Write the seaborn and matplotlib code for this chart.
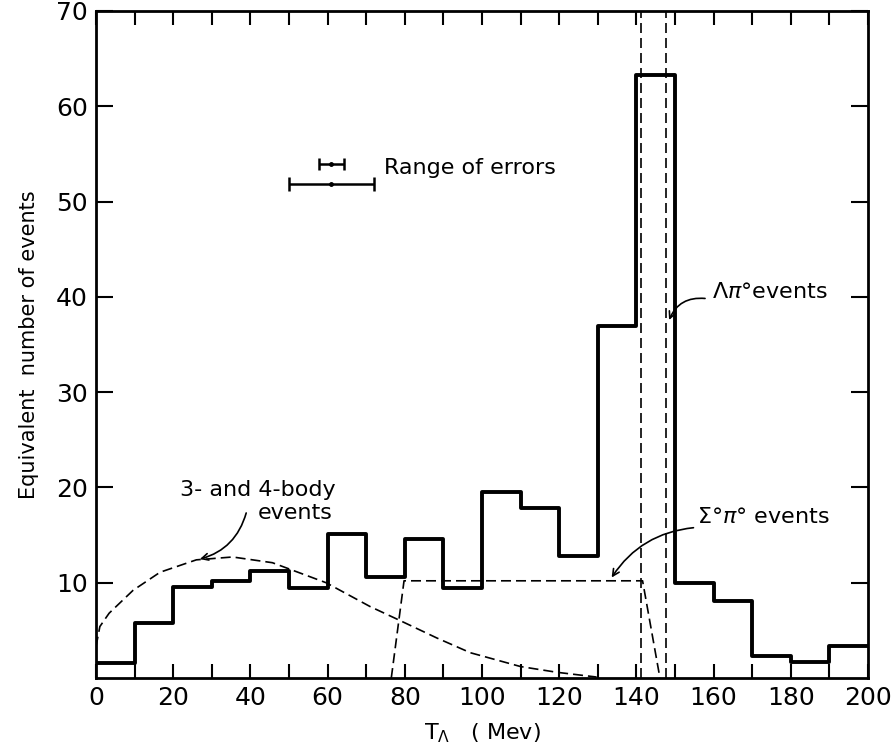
import numpy as np
import pandas as pd
import matplotlib
matplotlib.use("Agg")
import matplotlib.pyplot as plt
from matplotlib.ticker import MultipleLocator, FixedLocator
import seaborn as sns

# ---- data ----
bin_edges = list(range(0, 201, 10))
counts = [1.6, 5.8, 9.5, 10.2, 11.2, 9.4, 15.1, 10.6, 14.6, 9.4,
          19.5, 17.8, 12.8, 36.9, 63.3, 10.0, 8.1, 2.3, 1.7, 3.4]

body_x = [0, 1.0, 3.4, 9.6, 16.6, 26, 35.4, 45.7, 59.6, 71, 78.4, 88.3, 97, 110, 119.4, 129.7]
body_y = [3.3, 5.4, 6.8, 9.2, 11.1, 12.4, 12.7, 12.1, 10.0, 7.5, 6.1, 4.2, 2.65, 1.2, 0.6, 0.1]

sigma_x = [76.5, 79.8, 141.6, 146.1]
sigma_y = [0, 10.2, 10.2, 0]

lambda_lines = [141.3, 147.7]

err_center = 61
err_small = (53.9, 3.2)
err_large = (51.8, 11.0)

# ---- style ----
sns.set_theme(style="ticks")
plt.rcParams['font.family'] = ['DejaVu Sans']
plt.rcParams['mathtext.fontset'] = 'dejavusans'
plt.rcParams['text.color'] = 'black'
plt.rcParams['axes.labelcolor'] = 'black'
plt.rcParams['xtick.color'] = 'black'
plt.rcParams['ytick.color'] = 'black'

fig = plt.figure(figsize=(8.96, 7.56), dpi=100)
ax = fig.add_axes([96/896, 1-678/756, (868-96)/896, (678-11)/756])

centers = [(a + b) / 2 for a, b in zip(bin_edges[:-1], bin_edges[1:])]
df = pd.DataFrame({"T": centers, "w": counts})
sns.histplot(data=df, x="T", weights="w", bins=bin_edges, element="step",
             fill=False, color="black", linewidth=2.8, ax=ax)

dash = (6, 3)
sns.lineplot(x=body_x, y=body_y, sort=False, color="black", lw=1.2,
             dashes=False, ax=ax).lines[-1].set_dashes(dash)
l2 = ax.plot(sigma_x, sigma_y, color="black", lw=1.2)[0]
l2.set_dashes(dash)
for xv in lambda_lines:
    ln = ax.plot([xv, xv], [0, 70], color="black", lw=1.2)[0]
    ln.set_dashes(dash)

# error bars
ax.errorbar([err_center], [err_small[0]], xerr=[err_small[1]], fmt='o', ms=2.5,
            color='black', capsize=4, elinewidth=1.8, capthick=1.8)
ax.errorbar([err_center], [err_large[0]], xerr=[err_large[1]], fmt='o', ms=2.5,
            color='black', capsize=5, elinewidth=1.8, capthick=1.8)
ax.text(74.5, 53.5, "Range of errors", fontsize=16, va='center', ha='left',
        color='black')

# annotations
ax.annotate("", xy=(148.2, 37.3), xytext=(158.5, 39.8),
            arrowprops=dict(arrowstyle="->", color="black", lw=1.2,
                            connectionstyle="arc3,rad=0.4"))
ax.text(159.6, 40.5, "Λ$\\pi$°events", fontsize=16, va='center', ha='left',
        color='black')

ax.annotate("", xy=(133.2, 10.3), xytext=(155.5, 15.8),
            arrowprops=dict(arrowstyle="->", color="black", lw=1.2,
                            connectionstyle="arc3,rad=0.25"))
ax.text(155.7, 16.9, "Σ°$\\pi$° events", fontsize=16, va='center', ha='left',
        color='black')

ax.annotate("", xy=(26.2, 12.4), xytext=(39.1, 17.6),
            arrowprops=dict(arrowstyle="->", color="black", lw=1.2,
                            connectionstyle="arc3,rad=-0.3"))
ax.text(42, 19.7, "3- and 4-body", fontsize=16, va='center', ha='center',
        color='black')
ax.text(51.5, 17.3, "events", fontsize=16, va='center', ha='center',
        color='black')

# axes
ax.set_xlim(0, 200)
ax.set_ylim(0, 70)
ax.xaxis.set_major_locator(MultipleLocator(20))
ax.xaxis.set_minor_locator(MultipleLocator(10))
ax.yaxis.set_major_locator(FixedLocator([10, 20, 30, 40, 50, 60, 70]))
ax.tick_params(axis='x', which='both', direction='in', top=True, bottom=True,
               length=10, width=1.5, labelsize=18, pad=6, colors='black')
ax.tick_params(axis='y', which='both', direction='in', left=True, right=True,
               length=12, width=1.5, labelsize=18, pad=6, colors='black')
for s in ax.spines.values():
    s.set_linewidth(2.0)
    s.set_color('black')

ax.set_xlabel("T$_\\Lambda$   ( Mev)", fontsize=16, labelpad=8, color='black')
ax.set_ylabel("Equivalent  number of events", fontsize=15, labelpad=12,
              color='black')

fig.savefig("out.png", dpi=100)
